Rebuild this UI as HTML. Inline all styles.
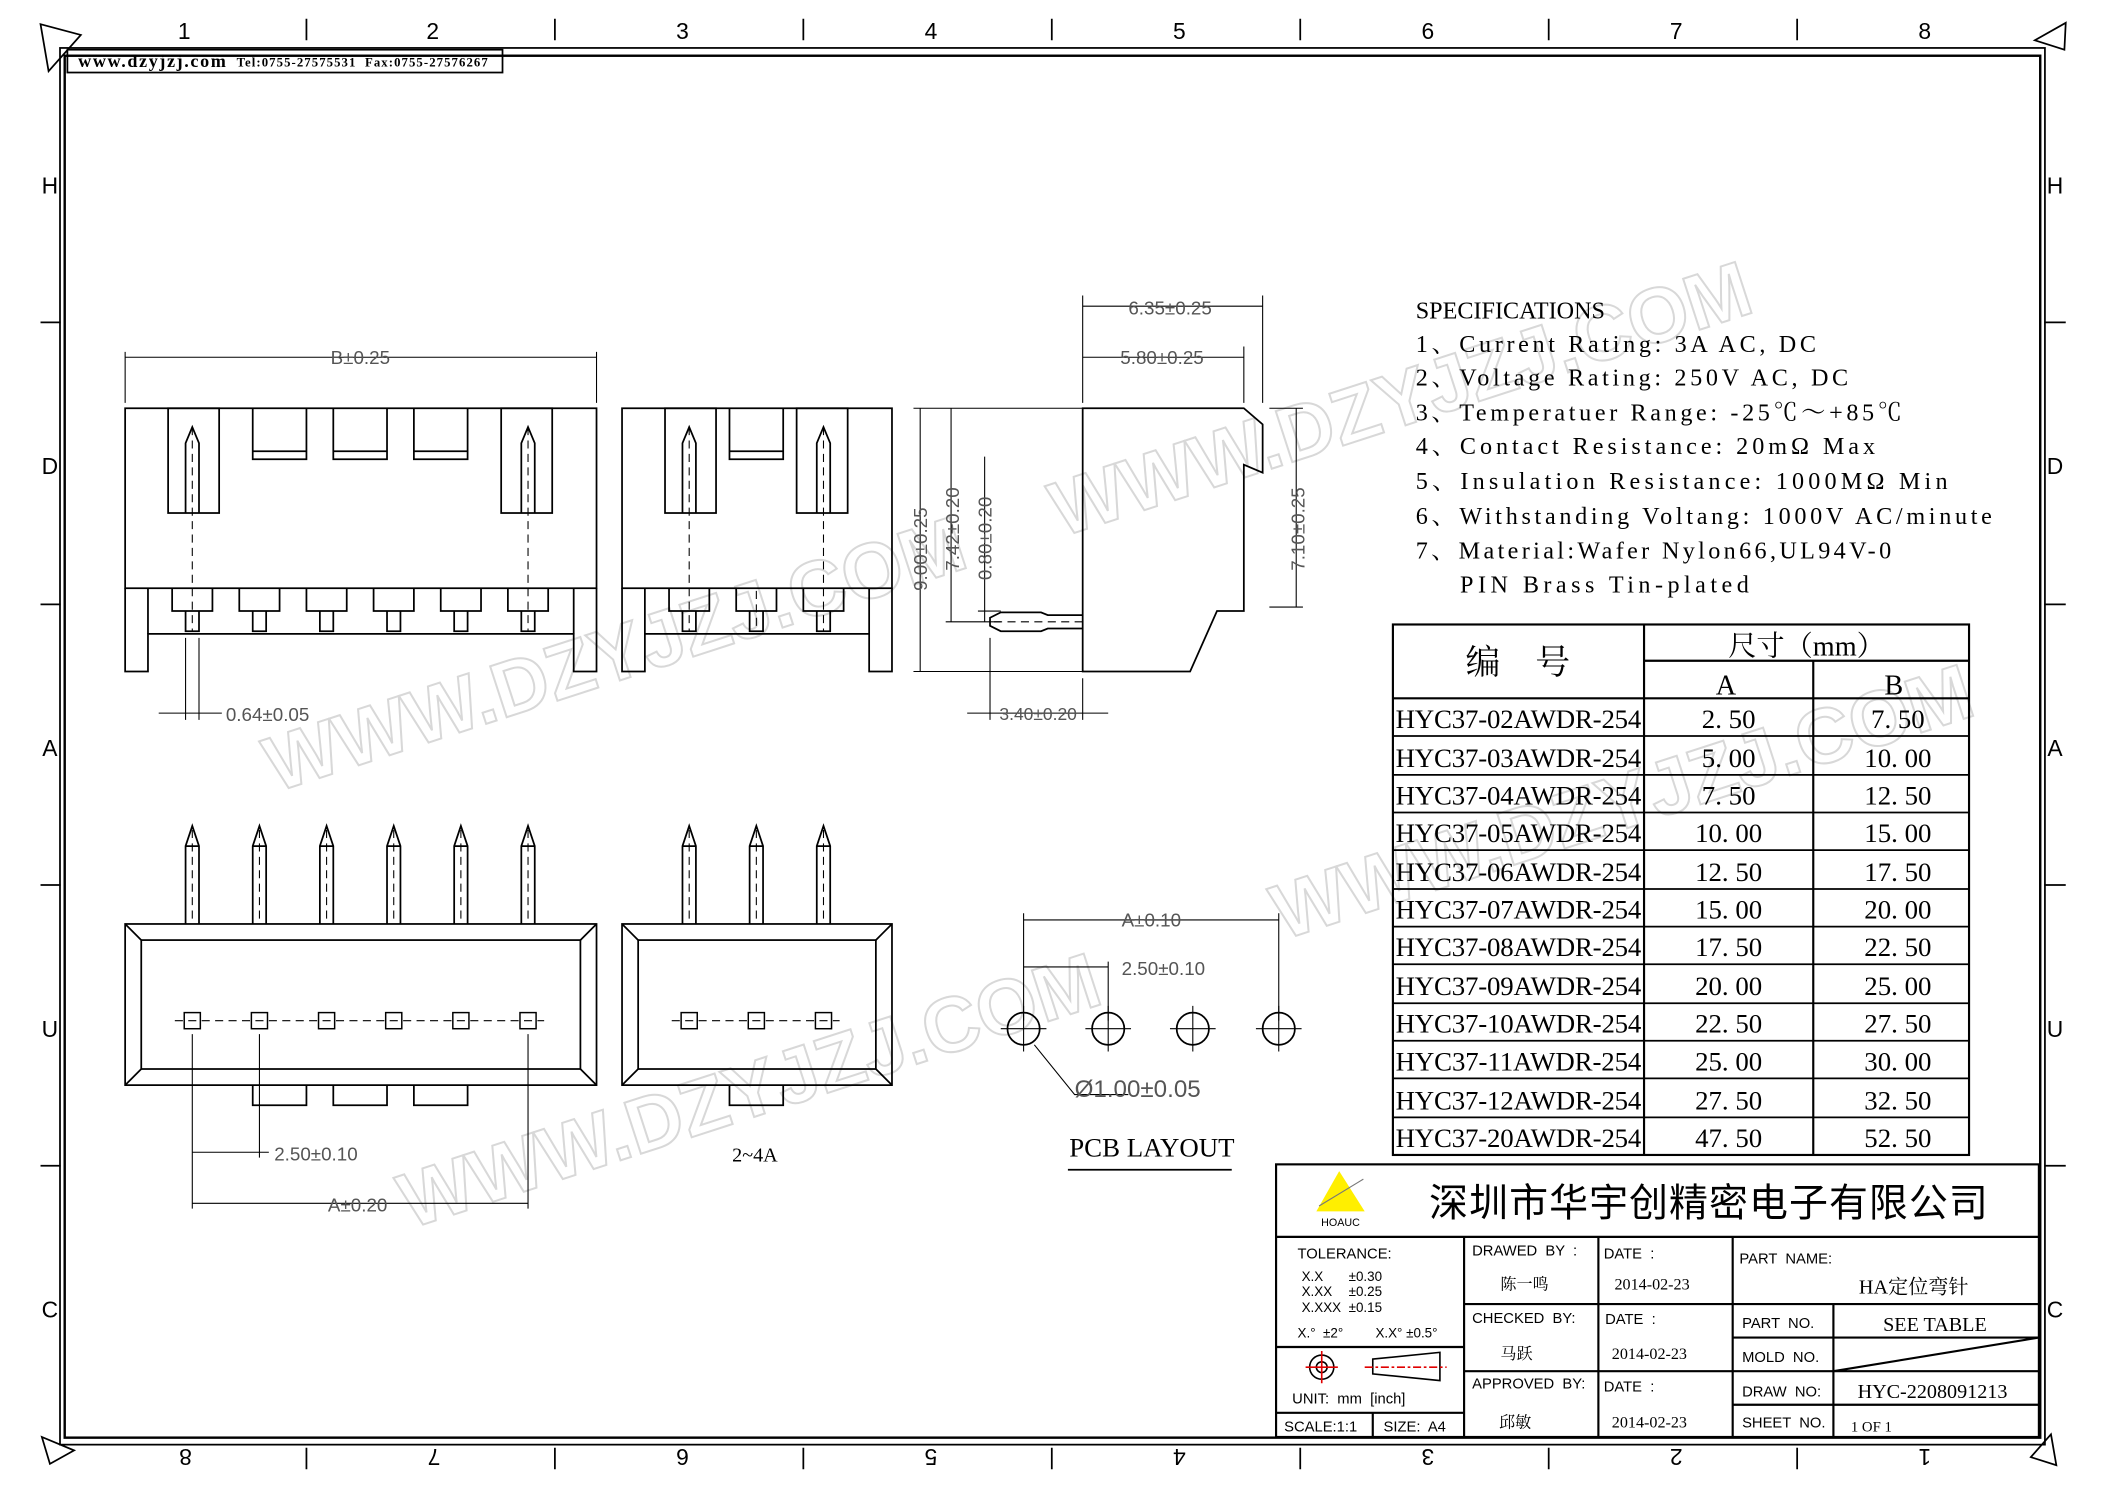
<!DOCTYPE html>
<html><head><meta charset="utf-8"><style>
html,body{margin:0;padding:0;background:#fff}
svg{display:block}
text{font-family:"Liberation Mono","Noto Serif CJK SC",monospace;fill:#000;white-space:pre}
.s,.s text{font-family:"Liberation Sans","Noto Sans CJK SC",sans-serif}
.r,.r text{font-family:"Liberation Serif","Noto Serif CJK SC",serif}
</style></head><body>
<svg width="2105" height="1488" viewBox="0 0 1560 1103" xmlns="http://www.w3.org/2000/svg">
<g transform="scale(0.9955)">
<g fill="none" stroke="#000" stroke-width="1.3">
<rect x="44.5" y="35.7" width="1478" height="1040"/>
<rect x="48" y="41.5" width="1471" height="1029" stroke-width="1.8"/>
<rect x="50" y="37" width="324" height="17" stroke-width="1.3"/>
<path d="M30 18 L60 26 L36 53 Z"/>
<path d="M1538 17 L1537 37 L1515 30 Z"/>
<path d="M31 1070 L37 1090 L55 1080 Z"/>
<path d="M1527 1068 L1531 1091 L1512 1085 Z"/>
<path d="M228 14V30M413 14V30M598 14V30M783 14V30M968 14V30M1153 14V30M1338 14V30"/>
<path d="M228 1078V1094M413 1078V1094M598 1078V1094M783 1078V1094M968 1078V1094M1153 1078V1094M1338 1078V1094"/>
<path d="M30 240H45M30 450H45M30 659H45M30 868H45"/>
<path d="M1522 240H1538M1522 450H1538M1522 659H1538M1522 868H1538"/>
</g>
<g font-size="17" class="s" text-anchor="middle">
<text x="137" y="29">1</text><text x="322" y="29">2</text><text x="508" y="29">3</text><text x="693" y="29">4</text><text x="878" y="29">5</text><text x="1063" y="29">6</text><text x="1248" y="29">7</text><text x="1433" y="29">8</text>
<g transform="rotate(180 780 1085)">
<text x="127" y="1091">1</text><text x="312" y="1091">2</text><text x="497" y="1091">3</text><text x="682" y="1091">4</text><text x="867" y="1091">5</text><text x="1052" y="1091">6</text><text x="1237" y="1091">7</text><text x="1422" y="1091">8</text>
</g>
<text x="37" y="144">H</text><text x="37" y="353">D</text><text x="37" y="563">A</text><text x="37" y="772">U</text><text x="37" y="981">C</text>
<text x="1530" y="144">H</text><text x="1530" y="353">D</text><text x="1530" y="563">A</text><text x="1530" y="772">U</text><text x="1530" y="981">C</text>
</g>
<text x="58" y="50" class="r" font-size="13.5" font-weight="bold" textLength="110">www.dzyjzj.com</text>
<text x="176" y="49.5" class="r" font-size="9.5" font-weight="bold" textLength="187">Tel:0755-27575531  Fax:0755-27576267</text>

<g class="s" font-size="58" font-weight="bold" opacity="0.9">
<text x="205" y="590" transform="rotate(-18 205 590)" style="fill:none;stroke:#d4d4d4;stroke-width:1.5">WWW.DZYJZJ.COM</text>
<text x="790" y="400" transform="rotate(-18 790 400)" style="fill:none;stroke:#d4d4d4;stroke-width:1.5">WWW.DZYJZJ.COM</text>
<text x="305" y="915" transform="rotate(-18 305 915)" style="fill:none;stroke:#d4d4d4;stroke-width:1.5">WWW.DZYJZJ.COM</text>
<text x="955" y="700" transform="rotate(-18 955 700)" style="fill:none;stroke:#d4d4d4;stroke-width:1.5">WWW.DZYJZJ.COM</text>
</g>

<g fill="none" stroke="#000" stroke-width="1.3">
<rect x="93" y="304" width="351" height="134"/>
<path d="M93 438V500H110V472H427V500H444V438"/>
<path d="M110 472V438M427 472V438"/>
<path d="M128 438V455H158V438M178 438V455H208V438M228 438V455H258V438M278 438V455H308V438M328 438V455H358V438M378 438V455H408V438"/>
<path d="M138 455V470H148V455M188 455V470H198V455M238 455V470H248V455M288 455V470H298V455M338 455V470H348V455M388 455V470H398V455"/>
<rect x="125" y="304" width="38" height="78"/><rect x="373" y="304" width="38" height="78"/>
<path d="M138 382V330L143 318L148 330V382M388 382V330L393 318L398 330V382"/>
<path d="M188 304V342H228V304M248 304V342H288V304M308 304V342H348V304M188 336H228M248 336H288M308 336H348"/>
<path d="M143 318V470M393 318V470" stroke-dasharray="6 4" stroke-width="0.8"/>
<rect x="463" y="304" width="201" height="134"/>
<path d="M463 438V500H480V472H647V500H664V438M480 472V438M647 472V438"/>
<path d="M498 438V455H528V438M548 438V455H578V438M598 438V455H628V438M508 455V470H518V455M558 455V470H568V455M608 455V470H618V455"/>
<rect x="495" y="304" width="38" height="78"/><rect x="593" y="304" width="38" height="78"/>
<path d="M508 382V330L513 318L518 330V382M608 382V330L613 318L618 330V382M543 304V342H583V304M543 336H583"/>
<path d="M513 318V470M613 318V470M563 440V470" stroke-dasharray="6 4" stroke-width="0.8"/>
<path d="M806 304L926 304L940 316V352L926 346V455H906L886 500H806Z"/>
<path d="M806 458H780L775 456H745L737 460V466L745 470H775L780 468H806"/>
<path d="M740 463H806" stroke-dasharray="6 4" stroke-width="0.8"/>
<g stroke-width="0.8">
<path d="M806 300V220M940 300V220M926 300V258M806 228H940M806 266H926"/>
<path d="M680 304H806M680 500H806M704 463H745M728 455H745M685 304V500M708 304V463M733 340V463"/>
<path d="M945 304H970M945 452H970M965 304V452"/>
<path d="M737 475V536M806 505V536M720 531H825"/>
<path d="M93 300V262M444 300V262M93 266H444"/>
<path d="M138 475V536M148 475V536M118 531H165"/>
<path d="M143 770V900M193 770V862M393 770V900M143 858H200M143 896H393"/>
<path d="M762 680V760M825 716V760M952 680V760M762 685H952M762 720H825"/>
<path d="M770 778L800 815H840"/>
</g>
<rect x="93" y="688" width="351" height="120"/>
<rect x="105" y="700" width="327" height="96"/>
<path d="M93 688L105 700M444 688L432 700M93 808L105 796M444 808L432 796"/>
<path d="M188 808V823H228V808M248 808V823H288V808M308 808V823H348V808"/>
<path d="M138 688V630L143 615L148 630V688M188 688V630L193 615L198 630V688M238 688V630L243 615L248 630V688M288 688V630L293 615L298 630V688M338 688V630L343 615L348 630V688M388 688V630L393 615L398 630V688"/>
<path d="M138 630H148M188 630H198M238 630H248M288 630H298M338 630H348M388 630H398"/>
<path d="M143 618V688M193 618V688M243 618V688M293 618V688M343 618V688M393 618V688M130 760H405" stroke-dasharray="6 4" stroke-width="0.8"/>
<g stroke-width="1.1">
<rect x="137" y="754" width="12" height="12"/><rect x="187" y="754" width="12" height="12"/><rect x="237" y="754" width="12" height="12"/><rect x="287" y="754" width="12" height="12"/><rect x="337" y="754" width="12" height="12"/><rect x="387" y="754" width="12" height="12"/>
<rect x="507" y="754" width="12" height="12"/><rect x="557" y="754" width="12" height="12"/><rect x="607" y="754" width="12" height="12"/>
</g>
<rect x="463" y="688" width="201" height="120"/>
<rect x="475" y="700" width="177" height="96"/>
<path d="M463 688L475 700M664 688L652 700M463 808L475 796M664 808L652 796M543 808V823H583V808"/>
<path d="M508 688V630L513 615L518 630V688M558 688V630L563 615L568 630V688M608 688V630L613 615L618 630V688M508 630H518M558 630H568M608 630H618"/>
<path d="M513 618V688M563 618V688M613 618V688M500 760H625" stroke-dasharray="6 4" stroke-width="0.8"/>
<circle cx="762" cy="766" r="12"/><circle cx="825" cy="766" r="12"/><circle cx="888" cy="766" r="12"/><circle cx="952" cy="766" r="12"/>
<path d="M745 766H779M762 749V783M808 766H842M825 749V783M871 766H905M888 749V783M935 766H969M952 749V783" stroke-width="0.8"/>
<path d="M795 871H917"/>
</g>
<g font-size="14" class="s">
<text x="246" y="271" style="fill:#555">B±0.25</text>
<text x="840" y="234" style="fill:#555">6.35±0.25</text>
<text x="834" y="271" style="fill:#555">5.80±0.25</text>
<text x="168" y="537" style="fill:#555">0.64±0.05</text>
<text x="744" y="536" font-size="13" style="fill:#555">3.40±0.20</text>
<text x="204" y="864" style="fill:#555">2.50±0.10</text>
<text x="244" y="902" style="fill:#555">A±0.20</text>
<text x="835" y="690" style="fill:#555">A±0.10</text>
<text x="835" y="726" style="fill:#555">2.50±0.10</text>
<text x="800" y="817" font-size="18" style="fill:#555">Ø1.00±0.05</text>
<text transform="translate(690 440) rotate(-90)" style="fill:#555">9.00±0.25</text>
<text transform="translate(714 425) rotate(-90)" style="fill:#555">7.42±0.20</text>
<text transform="translate(738 432) rotate(-90)" style="fill:#555">0.80±0.20</text>
<text transform="translate(971 425) rotate(-90)" style="fill:#555">7.10±0.25</text>
</g>
<text x="545" y="865" font-size="15" class="r">2~4A</text>
<text x="796" y="861" font-size="20" class="r">PCB LAYOUT</text>

<g font-size="18" class="r">
<text x="1054" y="237">SPECIFICATIONS</text>
<text x="1054" y="262" textLength="298">1、Current Rating: 3A AC, DC</text>
<text x="1054" y="287" textLength="322">2、Voltage Rating: 250V AC, DC</text>
<text x="1054" y="313" textLength="362">3、Temperatuer Range: -25℃～+85℃</text>
<text x="1054" y="338" textLength="342">4、Contact Resistance: 20mΩ Max</text>
<text x="1054" y="364" textLength="396">5、Insulation Resistance: 1000MΩ Min</text>
<text x="1054" y="390" textLength="429">6、Withstanding Voltang: 1000V AC/minute</text>
<text x="1054" y="416" textLength="354">7、Material:Wafer Nylon66,UL94V-0</text>
<text x="1087" y="441" textLength="215">PIN Brass Tin-plated</text>
</g>

<g fill="none" stroke="#000" stroke-width="1.6">
<rect x="1037" y="465" width="429" height="395"/>
<path d="M1224 465V860M1350 492V860M1224 492H1466M1037 520H1466"/>
<path d="M1037 548H1466M1037 577H1466M1037 605H1466M1037 633H1466M1037 662H1466M1037 690H1466M1037 718H1466M1037 747H1466M1037 775H1466M1037 803H1466M1037 832H1466" stroke-width="1.3"/>
</g>
<g font-size="21" class="r" text-anchor="middle">
<text x="1130" y="502" font-size="26">编　号</text>
<text x="1345" y="488">尺寸（mm）</text>
<text x="1285" y="517">A</text><text x="1410" y="517">B</text>
</g>
<g font-size="20" class="r">
<g text-anchor="start">
<text x="1039" y="542" textLength="183">HYC37-02AWDR-254</text>
<text x="1039" y="571" textLength="183">HYC37-03AWDR-254</text>
<text x="1039" y="599" textLength="183">HYC37-04AWDR-254</text>
<text x="1039" y="627" textLength="183">HYC37-05AWDR-254</text>
<text x="1039" y="656" textLength="183">HYC37-06AWDR-254</text>
<text x="1039" y="684" textLength="183">HYC37-07AWDR-254</text>
<text x="1039" y="712" textLength="183">HYC37-08AWDR-254</text>
<text x="1039" y="741" textLength="183">HYC37-09AWDR-254</text>
<text x="1039" y="769" textLength="183">HYC37-10AWDR-254</text>
<text x="1039" y="797" textLength="183">HYC37-11AWDR-254</text>
<text x="1039" y="826" textLength="183">HYC37-12AWDR-254</text>
<text x="1039" y="854" textLength="183">HYC37-20AWDR-254</text>
</g>
<g text-anchor="middle">
<text x="1287" y="542">2. 50</text><text x="1413" y="542">7. 50</text>
<text x="1287" y="571">5. 00</text><text x="1413" y="571">10. 00</text>
<text x="1287" y="599">7. 50</text><text x="1413" y="599">12. 50</text>
<text x="1287" y="627">10. 00</text><text x="1413" y="627">15. 00</text>
<text x="1287" y="656">12. 50</text><text x="1413" y="656">17. 50</text>
<text x="1287" y="684">15. 00</text><text x="1413" y="684">20. 00</text>
<text x="1287" y="712">17. 50</text><text x="1413" y="712">22. 50</text>
<text x="1287" y="741">20. 00</text><text x="1413" y="741">25. 00</text>
<text x="1287" y="769">22. 50</text><text x="1413" y="769">27. 50</text>
<text x="1287" y="797">25. 00</text><text x="1413" y="797">30. 00</text>
<text x="1287" y="826">27. 50</text><text x="1413" y="826">32. 50</text>
<text x="1287" y="854">47. 50</text><text x="1413" y="854">52. 50</text>
</g>
</g>

<g fill="none" stroke="#000" stroke-width="1.6">
<rect x="950" y="867" width="568" height="203"/>
<path d="M950 921H1518M1090 921V1070M1190 921V1070M1290 921V1070M1090 971H1290M1090 1021H1290"/>
<path d="M1290 971H1518M1290 996H1518M1290 1021H1518M1290 1046H1518M1365 971V1070M1365 1021L1518 996"/>
<path d="M950 1003H1090M950 1052H1090M1022 1052V1070"/>
</g>
<path d="M997 872L980 902H1016Z" fill="#ffef00"/>
<path d="M982 898L1015 878" stroke="#777" fill="none" stroke-width="0.8"/>
<text x="998" y="913" font-size="8" class="s" text-anchor="middle">HOAUC</text>
<text x="1064" y="906" font-size="29" class="s" textLength="416">深圳市华宇创精密电子有限公司</text>
<g class="s" font-size="11">
<text x="966" y="937">TOLERANCE:</text>
<text x="969" y="954" font-size="10">X.X</text><text x="1004" y="954" font-size="10">±0.30</text>
<text x="969" y="965" font-size="10">X.XX</text><text x="1004" y="965" font-size="10">±0.25</text>
<text x="969" y="977" font-size="10">X.XXX</text><text x="1004" y="977" font-size="10">±0.15</text>
<text x="966" y="996" font-size="10">X.°  ±2°</text><text x="1024" y="996" font-size="10">X.X° ±0.5°</text>
<text x="962" y="1045">UNIT:  mm  [inch]</text>
<text x="956" y="1066">SCALE:1:1</text>
<text x="1030" y="1066">SIZE:  A4</text>
<text x="1096" y="935">DRAWED  BY  :</text>
<text x="1096" y="985">CHECKED  BY:</text>
<text x="1096" y="1034">APPROVED  BY:</text>
<text x="1194" y="937">DATE  :</text>
<text x="1195" y="986">DATE  :</text>
<text x="1194" y="1036">DATE  :</text>
<text x="1295" y="941">PART  NAME:</text>
<text x="1297" y="989">PART  NO.</text>
<text x="1297" y="1014">MOLD  NO.</text>
<text x="1297" y="1040">DRAW  NO:</text>
<text x="1297" y="1063">SHEET  NO.</text>
</g>
<g class="r" font-size="12">
<text x="1117" y="960">陈一鸣</text><text x="1117" y="1012">马跃</text><text x="1116" y="1063">邱敏</text>
<text x="1202" y="960">2014-02-23</text><text x="1200" y="1012">2014-02-23</text><text x="1200" y="1063">2014-02-23</text>
<text x="1384" y="963" font-size="15">HA定位弯针</text>
<text x="1402" y="991" font-size="15">SEE TABLE</text>
<text x="1383" y="1041" font-size="15">HYC-2208091213</text>
<text x="1378" y="1066" font-size="11">1 OF 1</text>
</g>
<g fill="none" stroke-width="1.2">
<circle cx="984" cy="1018" r="9" stroke="#000"/><circle cx="984" cy="1018" r="4" stroke="#000"/>
<path d="M972 1018H996M984 1006V1030" stroke="#e00000"/>
<path d="M1022 1012L1072 1007V1028L1022 1023Z" stroke="#000"/>
<path d="M1016 1018H1077" stroke="#e00000" stroke-dasharray="6 2 2 2"/>
</g>
</g>
</svg>
</body></html>
